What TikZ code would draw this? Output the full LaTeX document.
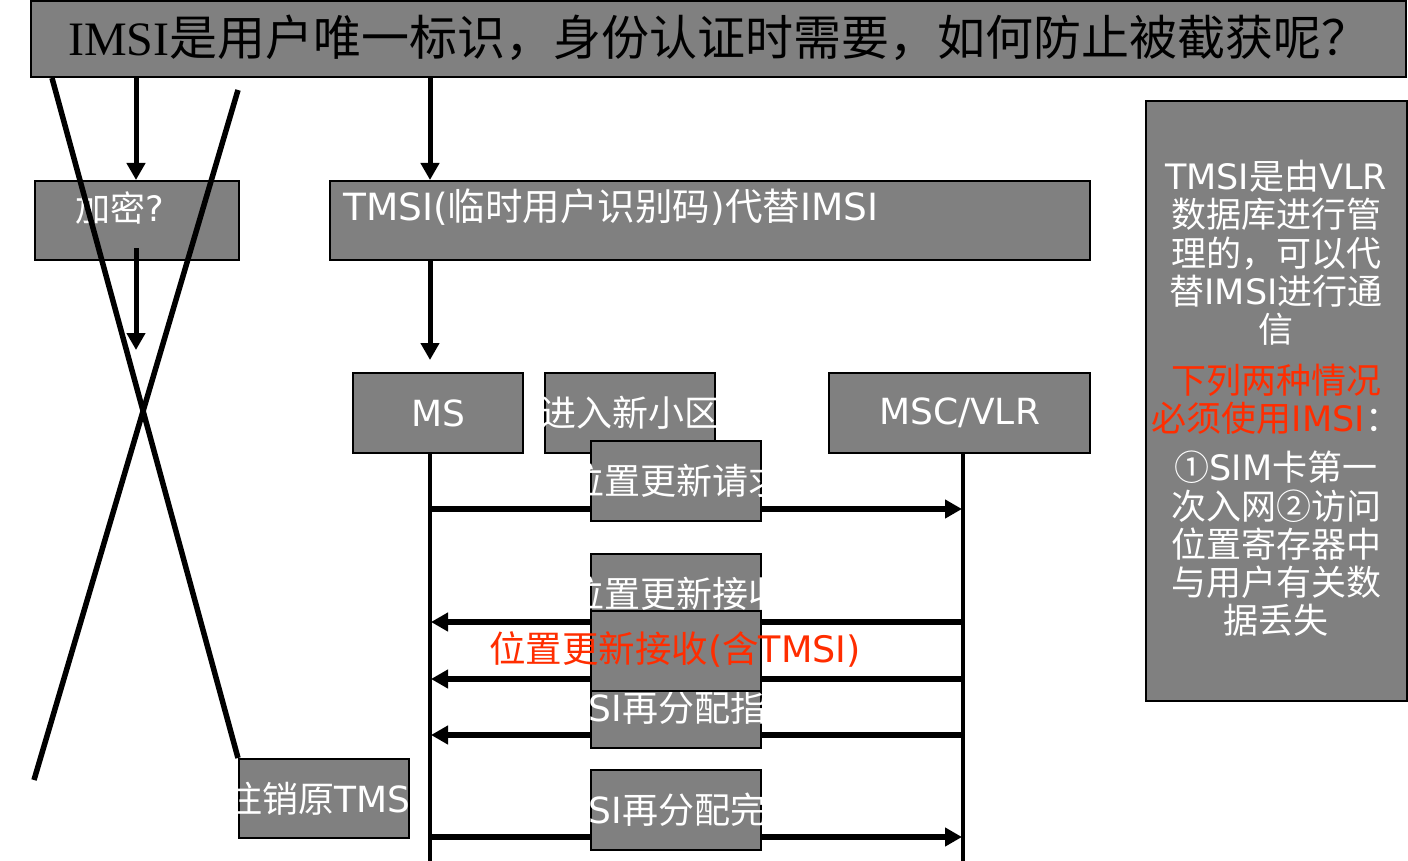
\documentclass[tikz,border=0pt]{standalone}
\usepackage{fontspec}
\setmainfont{DejaVu Sans}
\newfontfamily\zhfont{Noto Sans CJK SC}
\newfontfamily\titlelat{Liberation Serif}
\newcommand\zh[1]{{\zhfont #1}}
\usetikzlibrary{arrows.meta}
\definecolor{boxgray}{RGB}{128,128,128}
\definecolor{alertred}{RGB}{255,45,0}
\begin{document}
\begin{tikzpicture}[x=1pt,y=-1pt,
  box/.style={draw=black,line width=2.2pt,fill=boxgray,inner sep=0pt,anchor=north west,text=white,font=\fontsize{36}{40}\selectfont},
  wtext/.style={text=white,inner sep=0pt,font=\fontsize{36}{40}\selectfont},
  flow/.style={line width=5pt,-{Triangle[length=17pt,width=18pt]}},
  msg/.style={line width=5.5pt,-{Triangle[length=17pt,width=18pt]}},
  life/.style={line width=4pt},
  cross/.style={line width=5.5pt}]
\useasboundingbox (0,0) rectangle (1408,861);

% title
\node[box,minimum width=1375pt,minimum height=76pt] (title) at (30,0) {};
\node[inner sep=0pt,text=black,font=\fontsize{48}{50}\selectfont] (titletext) at (719,38)
  {{\titlelat IMSI}\zh{是用户唯一标识，身份认证时需要，如何防止被截获呢？}};

% encryption branch
\node[box,minimum width=204pt,minimum height=79pt] (enc) at (34,180) {};
\node[wtext,font=\fontsize{35}{38}\selectfont] (enctext) at (120,208) {\zh{加密}?};
\coordinate (encend) at (136,350);
\draw[flow] (title.south -| encend) -- (enc.north -| encend);
\draw[flow] (136,248) -- (encend);

% TMSI branch
\node[box,minimum width=760pt,minimum height=79pt] (tmsi) at (329,180) {};
\node[wtext,anchor=west,font=\fontsize{37.5}{40}\selectfont] (tmsitext) at (343,207) {TMSI(\zh{临时用户识别码})\zh{代替}IMSI};
\coordinate (tmsiend) at (430,360);
\draw[flow] (title.south -| tmsiend) -- (tmsi.north -| tmsiend);
\draw[flow] (tmsi.south -| tmsiend) -- (tmsiend);

% sequence heads
\node[box,minimum width=170pt,minimum height=80pt] (ms) at (352,372) {\makebox[0pt]{MS}};
\node[box,minimum width=170pt,minimum height=80pt] (cell) at (544,372) {\makebox[0pt]{\zh{进入新小区}}};
\node[box,minimum width=261pt,minimum height=80pt] (vlr) at (828,372) {\makebox[0pt]{MSC/VLR}};

% lifelines
\coordinate (msend) at (430,861);
\coordinate (vlrend) at (963,861);
\draw[life] (ms.south -| msend) -- (msend);
\draw[life] (vlr.south -| vlrend) -- (vlrend);

% messages
\coordinate (m1a) at (430,509); \coordinate (m1b) at (962,509);
\coordinate (m2a) at (963,622); \coordinate (m2b) at (431,622);
\coordinate (m3a) at (963,679); \coordinate (m3b) at (431,679);
\coordinate (m4a) at (963,735); \coordinate (m4b) at (431,735);
\coordinate (m5a) at (430,837); \coordinate (m5b) at (962,837);
\draw[msg] (m1a) -- (m1b);
\draw[msg] (m2a) -- (m2b);
\draw[msg] (m3a) -- (m3b);
\draw[msg] (m4a) -- (m4b);
\draw[msg] (m5a) -- (m5b);

% message boxes
\node[box,minimum width=170pt,minimum height=80pt] (req) at (590,440) {\makebox[0pt]{\zh{位置更新请求}}};
\node[box,minimum width=170pt,minimum height=80pt] (acc) at (590,553) {\makebox[0pt]{\zh{位置更新接收}}};
\node[box,minimum width=170pt,minimum height=80pt] (cmd) at (590,667) {\makebox[0pt]{\hspace*{-14pt}TMSI\zh{再分配指令}}};
\node[box,minimum width=170pt,minimum height=80pt] (accred) at (590,610) {};
\node[box,minimum width=170pt,minimum height=80pt] (cmp) at (590,769) {\makebox[0pt]{\hspace*{-14pt}TMSI\zh{再分配完成}}};
\node[box,minimum width=170pt,minimum height=79pt] (dereg) at (238,758) {\makebox[0pt]{\zh{注销原}TMSI}};

% red label
\node[inner sep=0pt,text=alertred,font=\fontsize{36.5}{40}\selectfont] (redtext) at (675,649)
  {\zh{位置更新接收}(\zh{含}TMSI)};

% info panel
\node[box,minimum width=261pt,minimum height=600pt] (info) at (1145,100) {};
\node[inner sep=0pt,anchor=north,align=center,text=white,font=\fontsize{35}{38.3}\selectfont] (infotext) at (1276,160)
  {TMSI\zh{是由}VLR\\ \zh{数据库进行管}\\ \zh{理的，可以代}\\ \zh{替}IMSI\zh{进行通}\\ \zh{信}\\[12pt]
   \textcolor{alertred}{\zh{下列两种情况}}\\ \textcolor{alertred}{\zh{必须使用}IMSI}\zh{：}\\[11pt]
   \zh{①}SIM\zh{卡第一}\\ \zh{次入网②访问}\\ \zh{位置寄存器中}\\ \zh{与用户有关数}\\ \zh{据丢失}};

% crossing lines
\coordinate (c1a) at (52,78); \coordinate (c2a) at (238,90); \coordinate (c2b) at (34,780);
\draw[cross] (c1a) -- (dereg.north west);
\draw[cross] (c2a) -- (c2b);
\end{tikzpicture}
\end{document}
